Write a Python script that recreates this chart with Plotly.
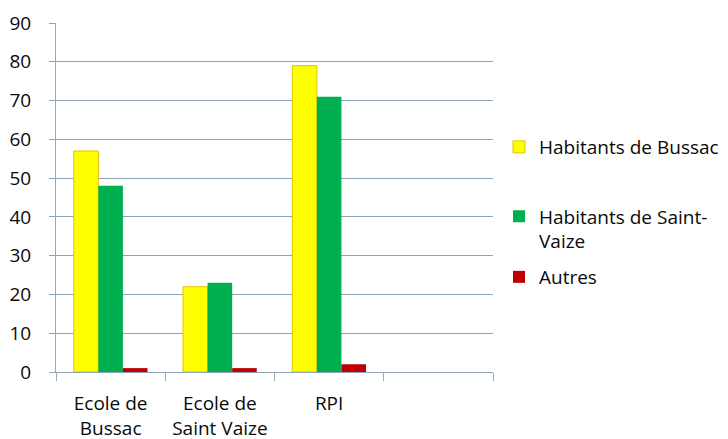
import plotly.graph_objects as go

categories = ["Ecole de<br>Bussac", "Ecole de<br>Saint Vaize", "RPI", " "]
series_names = ["Habitants de Bussac", "Habitants de Saint-<br>Vaize", "Autres"]
bussac = [57, 22, 79, None]
saint_vaize = [48, 23, 71, None]
autres = [1, 1, 2, None]
y_ticks = [0, 10, 20, 30, 40, 50, 60, 70, 80, 90]

# page is 728x439; browser body has an 8px margin, so the figure is offset by 8px
OFF = 8
W, H = 728 - OFF, 439 - OFF
FONT = "Open Sans"
FS = 19
TXT = "#0a0a0a"
GRID = "#8EA3B6"
AXIS = "#A6A6A6"

def px(v):
    return v - OFF

fig = go.Figure()
fig.add_trace(go.Bar(x=categories, y=bussac, name=series_names[0],
                     marker=dict(color="#FFFF00", line=dict(color="#E0C400", width=1)),
                     legend="legend"))
fig.add_trace(go.Bar(x=categories, y=saint_vaize, name=series_names[1],
                     marker=dict(color="#00B050", line=dict(color="#00B050", width=0)),
                     legend="legend2"))
fig.add_trace(go.Bar(x=categories, y=autres, name=series_names[2],
                     marker=dict(color="#C00000", line=dict(color="#C00000", width=0)),
                     legend="legend3"))

leg_common = dict(xref="container", yref="container", x=px(499) / W, xanchor="left",
                  yanchor="middle", valign="top", bgcolor="rgba(0,0,0,0)",
                  font=dict(family=FONT, size=FS, color=TXT))

fig.update_layout(
    width=W, height=H,
    margin=dict(l=px(56), r=W - px(493), t=px(23), b=H - px(372), pad=0, autoexpand=False),
    paper_bgcolor="white", plot_bgcolor="white",
    barmode="group", bargap=0.325, bargroupgap=0,
    font=dict(family=FONT, size=FS, color=TXT),
    showlegend=True,
    legend=dict(y=1 - px(147) / H, **leg_common),
    legend2=dict(y=1 - px(229) / H, **leg_common),
    legend3=dict(y=1 - px(277) / H, **leg_common),
    xaxis=dict(type="category", categoryorder="array", categoryarray=categories,
               tickson="boundaries", ticks="outside", ticklen=8, tickcolor=AXIS,
               showline=True, linecolor=GRID, linewidth=1, automargin=False,
               showgrid=False, ticklabelstandoff=14,
               tickfont=dict(family=FONT, size=FS, color=TXT)),
    yaxis=dict(range=[0, 90], tickvals=y_ticks, ticks="outside", ticklen=6,
               tickcolor=GRID, showgrid=True, gridcolor=GRID, gridwidth=1,
               showline=True, linecolor=AXIS, linewidth=1, zeroline=False,
               ticklabelstandoff=14, automargin=False,
               tickfont=dict(family=FONT, size=FS, color=TXT)),
)

fig.write_html("out.html")
